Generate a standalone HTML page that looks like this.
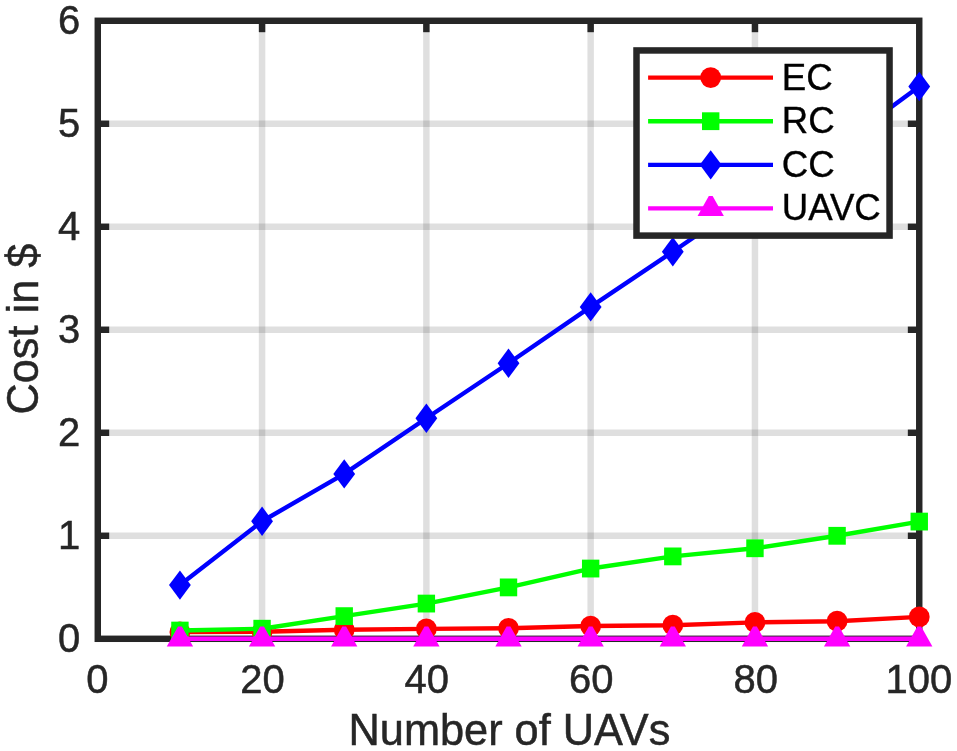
<!DOCTYPE html>
<html lang="en"><head><meta charset="utf-8"><title>Cost vs Number of UAVs</title>
<style>
html,body{margin:0;padding:0;background:#fff;}
body{width:957px;height:751px;overflow:hidden;}
svg{display:block;}
text{font-family:"Liberation Sans",Arial,Helvetica,sans-serif;font-kerning:normal;}
.tk{font-size:40px;fill:#262626;stroke:#262626;stroke-width:0.5px;}
.lb{font-size:43.33px;fill:#262626;stroke:#262626;stroke-width:0.5px;}
.lg{font-size:36.67px;fill:#000;stroke:#000;stroke-width:0.35px;}
</style></head><body>
<svg width="957" height="751" viewBox="0 0 957 751">
<rect width="957" height="751" fill="#fff"/>
<g stroke="#262626" stroke-opacity="0.15" stroke-width="6.45"><line x1="262.07" y1="20.78" x2="262.07" y2="638.8"/><line x1="426.37" y1="20.78" x2="426.37" y2="638.8"/><line x1="590.66" y1="20.78" x2="590.66" y2="638.8"/><line x1="754.96" y1="20.78" x2="754.96" y2="638.8"/><line x1="97.78" y1="535.8" x2="919.25" y2="535.8"/><line x1="97.78" y1="432.79" x2="919.25" y2="432.79"/><line x1="97.78" y1="329.79" x2="919.25" y2="329.79"/><line x1="97.78" y1="226.79" x2="919.25" y2="226.79"/><line x1="97.78" y1="123.78" x2="919.25" y2="123.78"/></g>
<g stroke="#262626" stroke-width="6.45" stroke-linecap="butt"><line x1="262.07" y1="638.8" x2="262.07" y2="627.38"/><line x1="262.07" y1="20.78" x2="262.07" y2="32.2"/><line x1="426.37" y1="638.8" x2="426.37" y2="627.38"/><line x1="426.37" y1="20.78" x2="426.37" y2="32.2"/><line x1="590.66" y1="638.8" x2="590.66" y2="627.38"/><line x1="590.66" y1="20.78" x2="590.66" y2="32.2"/><line x1="754.96" y1="638.8" x2="754.96" y2="627.38"/><line x1="754.96" y1="20.78" x2="754.96" y2="32.2"/><line x1="97.78" y1="535.8" x2="109.2" y2="535.8"/><line x1="919.25" y1="535.8" x2="907.83" y2="535.8"/><line x1="97.78" y1="432.79" x2="109.2" y2="432.79"/><line x1="919.25" y1="432.79" x2="907.83" y2="432.79"/><line x1="97.78" y1="329.79" x2="109.2" y2="329.79"/><line x1="919.25" y1="329.79" x2="907.83" y2="329.79"/><line x1="97.78" y1="226.79" x2="109.2" y2="226.79"/><line x1="919.25" y1="226.79" x2="907.83" y2="226.79"/><line x1="97.78" y1="123.78" x2="109.2" y2="123.78"/><line x1="919.25" y1="123.78" x2="907.83" y2="123.78"/></g>
<rect x="97.78" y="20.78" width="821.47" height="618.02" fill="none" stroke="#262626" stroke-width="6.45"/>
<text class="tk" transform="translate(97.38 692.9) scale(1 1.02)" text-anchor="middle">0</text>
<text class="tk" transform="translate(262.57 692.9) scale(1 1.02)" text-anchor="middle">20</text>
<text class="tk" transform="translate(426.77 692.9) scale(1 1.02)" text-anchor="middle">40</text>
<text class="tk" transform="translate(591.16 692.9) scale(1 1.02)" text-anchor="middle">60</text>
<text class="tk" transform="translate(755.86 692.9) scale(1 1.02)" text-anchor="middle">80</text>
<text class="tk" transform="translate(918.9 692.9) scale(1 1.02)" text-anchor="middle">100</text>
<text class="tk" transform="translate(80.2 652.2) scale(1 1.02)" text-anchor="end">0</text>
<text class="tk" transform="translate(80.2 549.2) scale(1 1.02)" text-anchor="end">1</text>
<text class="tk" transform="translate(80.2 446.19) scale(1 1.02)" text-anchor="end">2</text>
<text class="tk" transform="translate(80.2 343.19) scale(1 1.02)" text-anchor="end">3</text>
<text class="tk" transform="translate(80.2 240.19) scale(1 1.02)" text-anchor="end">4</text>
<text class="tk" transform="translate(80.2 137.18) scale(1 1.02)" text-anchor="end">5</text>
<text class="tk" transform="translate(80.2 34.18) scale(1 1.02)" text-anchor="end">6</text>
<text class="lb" transform="translate(509.4 744.6) scale(1 1.02)" text-anchor="middle">Number of UAVs</text>
<text class="lb" transform="translate(37.9 329.1) rotate(-90) scale(1 1.02)" text-anchor="middle">Cost in $</text>
<polyline points="179.93,632 262.07,631.8 344.22,629.74 426.37,628.91 508.51,628.29 590.66,626.03 672.81,625.2 754.96,622.42 837.1,621.19 919.25,616.9" fill="none" stroke="#ff0000" stroke-width="4.4" stroke-linejoin="round"/>
<circle cx="179.93" cy="632" r="10.4" fill="#ff0000"/>
<circle cx="262.07" cy="631.8" r="10.4" fill="#ff0000"/>
<circle cx="344.22" cy="629.74" r="10.4" fill="#ff0000"/>
<circle cx="426.37" cy="628.91" r="10.4" fill="#ff0000"/>
<circle cx="508.51" cy="628.29" r="10.4" fill="#ff0000"/>
<circle cx="590.66" cy="626.03" r="10.4" fill="#ff0000"/>
<circle cx="672.81" cy="625.2" r="10.4" fill="#ff0000"/>
<circle cx="754.96" cy="622.42" r="10.4" fill="#ff0000"/>
<circle cx="837.1" cy="621.19" r="10.4" fill="#ff0000"/>
<circle cx="919.25" cy="616.9" r="10.4" fill="#ff0000"/>
<polyline points="179.93,630.56 262.07,628.71 344.22,616.14 426.37,603.57 508.51,587.4 590.66,568.55 672.81,556.4 754.96,548.26 837.1,535.8 919.25,521.58" fill="none" stroke="#00ff00" stroke-width="4.4" stroke-linejoin="round"/>
<rect x="171.23" y="621.66" width="17.4" height="17.8" fill="#00ff00"/>
<rect x="253.37" y="619.81" width="17.4" height="17.8" fill="#00ff00"/>
<rect x="335.52" y="607.24" width="17.4" height="17.8" fill="#00ff00"/>
<rect x="417.67" y="594.67" width="17.4" height="17.8" fill="#00ff00"/>
<rect x="499.81" y="578.5" width="17.4" height="17.8" fill="#00ff00"/>
<rect x="581.96" y="559.65" width="17.4" height="17.8" fill="#00ff00"/>
<rect x="664.11" y="547.5" width="17.4" height="17.8" fill="#00ff00"/>
<rect x="746.26" y="539.36" width="17.4" height="17.8" fill="#00ff00"/>
<rect x="828.4" y="526.9" width="17.4" height="17.8" fill="#00ff00"/>
<rect x="910.55" y="512.68" width="17.4" height="17.8" fill="#00ff00"/>
<polyline points="179.93,585.09 262.07,521.27 344.22,473.89 426.37,418.27 508.51,363.27 590.66,306.92 672.81,251.71 754.96,195.16 837.1,146.86 919.25,86.5" fill="none" stroke="#0000ff" stroke-width="4.4" stroke-linejoin="round"/>
<path d="M179.93 570.39L190.83 585.09L179.93 599.79L169.03 585.09Z" fill="#0000ff"/>
<path d="M262.07 506.57L272.97 521.27L262.07 535.97L251.17 521.27Z" fill="#0000ff"/>
<path d="M344.22 459.19L355.12 473.89L344.22 488.59L333.32 473.89Z" fill="#0000ff"/>
<path d="M426.37 403.57L437.27 418.27L426.37 432.97L415.47 418.27Z" fill="#0000ff"/>
<path d="M508.51 348.57L519.41 363.27L508.51 377.97L497.62 363.27Z" fill="#0000ff"/>
<path d="M590.66 292.22L601.56 306.92L590.66 321.62L579.76 306.92Z" fill="#0000ff"/>
<path d="M672.81 237.01L683.71 251.71L672.81 266.41L661.91 251.71Z" fill="#0000ff"/>
<path d="M754.96 180.46L765.86 195.16L754.96 209.86L744.06 195.16Z" fill="#0000ff"/>
<path d="M837.1 132.16L848 146.86L837.1 161.56L826.2 146.86Z" fill="#0000ff"/>
<path d="M919.25 71.8L930.15 86.5L919.25 101.2L908.35 86.5Z" fill="#0000ff"/>
<polyline points="179.93,638.8 262.07,638.8 344.22,638.8 426.37,638.8 508.51,638.8 590.66,638.8 672.81,638.8 754.96,638.8 837.1,638.8 919.25,638.8" fill="none" stroke="#ff00ff" stroke-width="4.4" stroke-linejoin="round"/>
<path d="M178.03 626.4L181.83 626.4L193.08 646.4L166.78 646.4Z" fill="#ff00ff"/>
<path d="M260.17 626.4L263.97 626.4L275.22 646.4L248.92 646.4Z" fill="#ff00ff"/>
<path d="M342.32 626.4L346.12 626.4L357.37 646.4L331.07 646.4Z" fill="#ff00ff"/>
<path d="M424.47 626.4L428.27 626.4L439.52 646.4L413.22 646.4Z" fill="#ff00ff"/>
<path d="M506.62 626.4L510.41 626.4L521.66 646.4L495.37 646.4Z" fill="#ff00ff"/>
<path d="M588.76 626.4L592.56 626.4L603.81 646.4L577.51 646.4Z" fill="#ff00ff"/>
<path d="M670.91 626.4L674.71 626.4L685.96 646.4L659.66 646.4Z" fill="#ff00ff"/>
<path d="M753.06 626.4L756.86 626.4L768.11 646.4L741.81 646.4Z" fill="#ff00ff"/>
<path d="M835.2 626.4L839 626.4L850.25 646.4L823.95 646.4Z" fill="#ff00ff"/>
<path d="M917.35 626.4L921.15 626.4L932.4 646.4L906.1 646.4Z" fill="#ff00ff"/>
<rect x="636.5" y="50.45" width="253.05" height="185.15" fill="#fff" stroke="#262626" stroke-width="6.5"/>
<line x1="648.1" y1="77.6" x2="773" y2="77.6" stroke="#ff0000" stroke-width="4.4"/>
<circle cx="710.7" cy="77.6" r="10.4" fill="#ff0000"/>
<text class="lg" x="781.7" y="89.6">EC</text>
<line x1="648.1" y1="121.2" x2="773" y2="121.2" stroke="#00ff00" stroke-width="4.4"/>
<rect x="702" y="112.3" width="17.4" height="17.8" fill="#00ff00"/>
<text class="lg" x="781.7" y="133.2">RC</text>
<line x1="648.1" y1="164.85" x2="773" y2="164.85" stroke="#0000ff" stroke-width="4.4"/>
<path d="M710.7 150.15L721.6 164.85L710.7 179.55L699.8 164.85Z" fill="#0000ff"/>
<text class="lg" x="781.7" y="176.85">CC</text>
<line x1="648.1" y1="208.4" x2="773" y2="208.4" stroke="#ff00ff" stroke-width="4.4"/>
<path d="M708.8 196L712.6 196L723.85 216L697.55 216Z" fill="#ff00ff"/>
<text class="lg" x="781.7" y="220.4">UAVC</text>
</svg></body></html>
